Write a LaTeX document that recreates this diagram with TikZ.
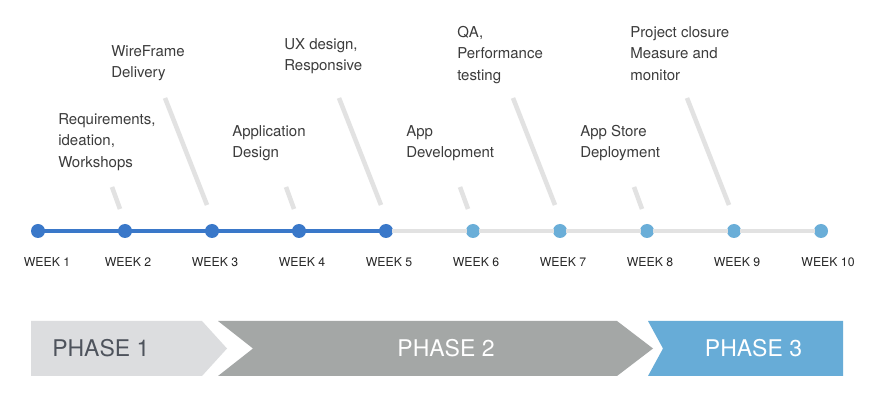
\documentclass[tikz,border=0pt]{standalone}
\usepackage{fontspec}
\setmainfont{TeX Gyre Heros}

\definecolor{doneblue}{HTML}{3A78C9}
\definecolor{nextblue}{HTML}{6AAED8}
\definecolor{trackgray}{HTML}{E2E2E2}
\definecolor{taskgray}{HTML}{3C3C3C}
\definecolor{phaseonefill}{HTML}{DCDDDF}
\definecolor{phasetwofill}{HTML}{A4A7A6}
\definecolor{phasethreefill}{HTML}{67ACD7}
\definecolor{phaseonetext}{HTML}{4E535C}

\begin{document}
\begin{tikzpicture}[
    x=0.75pt, y=-0.75pt,
    dot/.style={circle, inner sep=0pt, outer sep=0pt, minimum size=10.5pt},
    done/.style={draw=doneblue, line width=3.4pt},
    todo/.style={draw=trackgray, line width=3.4pt},
    leader/.style={draw=trackgray, line width=3.4pt},
    task/.style={anchor=north west, inner sep=0pt, align=left,
      text=taskgray, font=\fontsize{11.25}{16.1}\selectfont},
    weeklabel/.style={inner sep=0pt, text=black!85,
      font=\fontsize{9.2}{11}\selectfont},
    phaselabel/.style={inner sep=0pt, font=\fontsize{17.25}{20}\selectfont}
  ]
      \useasboundingbox (0,0) rectangle (878,402);
      \fill[white] (0,0) rectangle (878,402);

      % Week dots on the time line
      \foreach \i/\dx in {1/9,2/3,3/3,4/3,5/3,6/3,7/3,8/3,9/3,10/7} {
        \node[dot] (w\i) at ({38+87*(\i-1)},231) {};
        \node[weeklabel] (wl\i) at ([shift={(\dx,31.5)}]w\i.center) {WEEK \i};
      }
      \foreach \i in {1,...,5}  \fill[doneblue] (w\i) circle (5.25pt);
      \foreach \i in {6,...,10} \fill[nextblue] (w\i) circle (5.25pt);

      % Time line between the dots
      \foreach \i [evaluate=\i as \j using int(\i+1)] in {1,...,4}
        \draw[done, shorten <=-1pt, shorten >=-1pt] (w\i) -- (w\j);
      \foreach \i [evaluate=\i as \j using int(\i+1)] in {5,...,9}
        \draw[todo, shorten <=-1pt, shorten >=-1pt] (w\i) -- (w\j);

      % Slanted leaders
      \foreach \i in {2,4,6,8}
        \draw[leader] ([shift={(-13,-44)}]w\i.center) -- ([shift={(-5,-22)}]w\i.center);
      \foreach \i in {3,5,7,9}
        \draw[leader] ([shift={(-47,-133)}]w\i.center) -- ([shift={(-5,-26)}]w\i.center);

      % Tasks
      \node[task] (req)     at (58,113)  {Requirements,\\ideation,\\Workshops};
      \node[task] (wire)    at (111,45)  {WireFrame\\Delivery};
      \node[task] (appdes)  at (232,125) {Application\\Design};
      \node[task] (ux)      at (284,38)  {UX design,\\Responsive};
      \node[task] (appdev)  at (406,125) {App\\Development};
      \node[task] (qa)      at (457,26)  {QA,\\Performance\\testing};
      \node[task] (store)   at (580,125) {App Store\\Deployment};
      \node[task] (closure) at (630,26)  {Project closure\\Measure and\\monitor};

      % Phase arrows
      \fill[phaseonefill] (31,321) -- (202,321) -- (227,348.5) -- (202,376) -- (31,376) -- cycle;
      \fill[phasetwofill] (218,321) -- (617,321) -- (653,348.5) -- (617,376) -- (218,376)
        -- (253,348.5) -- cycle;
      \fill[phasethreefill] (648,321) -- (843,321) -- (843,376) -- (648,376) -- (663,348.5) -- cycle;

      \node[phaselabel, anchor=west, text=phaseonetext] (ph1) at (52,348.5) {PHASE 1};
      \node[phaselabel, text=white] (ph2) at (446,348.5) {PHASE 2};
      \node[phaselabel, text=white] (ph3) at (753.5,348.5) {PHASE 3};

\end{tikzpicture}
\end{document}
